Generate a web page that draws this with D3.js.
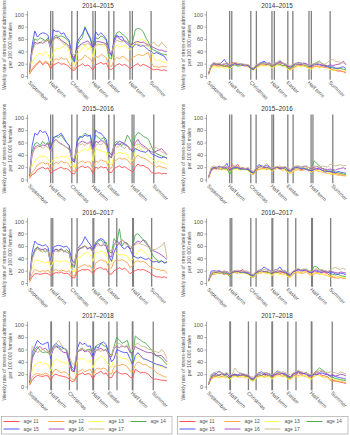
<!DOCTYPE html>
<html><head><meta charset="utf-8">
<script src="https://cdn.jsdelivr.net/npm/d3@7/dist/d3.min.js"></script>
<style>body{margin:0;background:#fff}svg{display:block;font-family:"Liberation Sans",Arial,sans-serif}</style>
</head><body><svg id="c" width="350" height="435"></svg>
<script>
const ages = ["age 11","age 12","age 13","age 14","age 15","age 16","age 17"];
const colors = ["#ff5050","#ffa64d","#ffff4d","#4dac4d","#4d55ff","#a64db8","#cbb98a"];
const years = ["2014–2015","2015–2016","2016–2017","2017–2018"];
const tickLabels = ["September","Half term","Christmas","Half term","Easter","Half term","Summer"];
const tickWeeks = [[0,8,16,24,30,38,46],[0,8,16,24,30,38.8,47],[0,8.2,16,24,30,39,46.2],[0,8.1,15.1,24,30,38.9,46.8]];
const holidayLines = [
 [8,8.8,16,18.1,24,24.9,30,31.9,38,38.9,46],
 [8,8.8,16,18,24,24.6,30,32,38.8,39.5,47],
 [8.2,8.8,16,18,24,24.3,30,33,39,39.3,46.2],
 [8.1,8.3,15.1,18,24,24.2,30,33.1,38.9,39.1,46.8]];
const yTicks = [0,20,40,60,80,100];

// Female rates, weeks 0..52, ages 11..17
const f1415 = [
[3,10,15,20,24,18,22,20,12,18,20,22,19,20,18,15,10,9,15,17,20,16,18,15,10,18,20,22,19,21,12,10,15,18,20,17,19,16,12,15,18,20,16,19,17,15,12,10,11,10,9,10,8],
[4,12,18,22,25,20,24,22,15,25,28,26,30,27,28,20,14,12,24,26,28,34,30,28,20,32,30,35,33,30,18,15,26,30,28,32,30,26,22,30,32,35,34,33,36,38,22,15,15,14,16,15,15],
[5,22,30,35,38,33,40,35,25,38,45,44,46,48,55,40,22,18,35,40,45,50,42,48,30,48,50,52,48,50,28,25,45,50,47,48,50,45,42,50,55,53,60,58,56,50,40,28,25,26,24,22,20],
[8,45,60,58,62,60,57,62,44,62,66,64,65,63,60,55,30,22,50,58,62,80,68,60,42,62,60,65,63,58,30,28,60,70,72,68,65,60,50,55,75,77,76,72,62,55,45,42,40,38,36,35,34],
[10,50,73,63,68,70,69,66,46,75,72,73,68,70,62,58,35,24,55,62,68,78,70,62,45,72,66,70,66,60,45,32,60,66,63,64,56,52,48,46,52,50,48,50,46,42,40,36,38,36,34,32,25],
[6,40,55,52,55,53,56,58,45,60,63,62,58,55,52,48,32,30,45,50,53,55,57,52,44,55,56,55,54,52,38,35,55,65,60,58,57,55,50,52,55,56,54,55,52,50,48,46,44,42,42,40,40],
[10,38,50,55,52,58,55,60,46,58,62,60,56,52,50,46,38,33,42,48,52,50,53,50,44,50,52,50,52,50,40,38,52,58,56,55,58,54,50,48,50,52,50,48,50,48,52,55,50,48,55,50,45]];
const f1516 = [
[2,8,10,16,18,20,17,19,10,14,16,18,20,17,18,15,10,9,17,20,22,19,21,18,10,20,18,21,19,20,12,11,18,20,22,19,21,18,15,12,20,25,22,23,20,18,12,10,10,11,9,10,9],
[3,12,16,24,26,28,25,27,15,24,28,26,30,27,28,24,15,13,25,28,30,27,29,28,16,30,28,32,30,29,20,18,30,32,35,33,34,32,26,24,35,40,36,35,33,30,26,24,20,22,20,19,18],
[4,22,30,35,38,37,38,33,25,32,36,35,38,36,38,33,22,20,42,45,48,50,46,55,30,50,48,46,45,44,26,24,40,42,44,42,43,40,32,30,45,55,50,45,42,38,35,30,28,30,28,26,25],
[6,45,58,60,55,62,57,60,45,65,70,68,72,65,60,55,32,28,60,68,70,75,72,70,50,72,68,65,68,60,40,36,58,62,58,55,60,72,65,55,70,76,74,70,68,65,55,45,42,40,38,36,35],
[8,55,75,72,80,76,78,70,50,68,70,72,75,68,60,55,35,30,62,70,68,72,70,72,50,80,76,75,70,65,45,40,55,58,62,60,56,55,50,45,50,48,46,45,44,48,42,40,38,36,35,37,34],
[5,40,52,55,53,56,55,58,45,62,65,60,58,55,52,50,32,28,55,60,62,60,58,62,45,62,60,63,62,58,38,35,52,58,56,60,58,55,48,50,60,65,58,55,52,48,45,44,46,48,50,45,40],
[9,42,50,52,55,50,54,52,46,58,65,60,57,55,52,48,36,34,52,56,58,55,60,57,45,55,58,56,60,55,40,42,55,52,55,53,50,56,48,52,55,58,55,52,50,48,52,50,52,48,45,42,40]];
const f1617 = [
[2,10,15,15,14,15,16,15,12,15,17,16,18,15,16,14,9,8,18,20,22,21,22,20,15,22,24,25,22,23,15,14,20,22,25,22,24,20,15,18,20,22,21,22,20,18,15,12,10,10,9,10,8],
[3,15,22,20,18,20,19,21,15,20,22,19,21,20,18,20,12,11,24,26,28,30,27,28,20,32,35,38,36,35,25,24,35,38,36,38,35,33,25,28,35,36,34,35,33,28,25,24,22,22,20,21,15],
[4,25,35,38,35,34,32,35,25,35,36,35,34,36,35,33,20,18,40,42,45,48,50,46,35,50,48,52,50,48,32,30,50,48,45,46,45,44,35,38,45,50,55,52,48,45,38,35,36,34,35,33,35],
[6,42,55,58,52,55,50,54,30,50,55,52,56,50,54,50,28,25,50,55,58,60,55,58,50,62,68,70,65,66,52,48,72,65,88,60,66,64,55,60,78,80,75,70,68,60,50,42,38,35,36,33,34],
[8,50,68,63,62,60,62,58,35,58,60,61,60,58,60,55,38,32,55,60,65,75,68,62,55,65,70,72,70,60,45,35,50,60,65,58,55,60,55,45,42,40,42,40,38,40,36,34,35,33,36,32,34],
[5,40,52,58,55,54,56,52,32,52,55,53,55,52,50,48,30,28,52,56,58,60,55,58,50,62,64,60,62,60,45,42,62,68,65,70,66,64,55,58,65,68,66,70,64,60,55,52,50,48,45,42,38],
[8,38,50,55,52,50,54,52,32,50,52,50,53,52,50,48,32,30,55,58,56,60,58,55,50,58,62,60,65,62,55,52,60,65,62,70,64,62,60,58,62,65,63,62,60,58,55,54,55,58,60,66,40]];
const f1718 = [
[2,10,15,18,17,16,18,17,10,18,20,18,17,16,15,12,8,9,18,20,22,19,21,20,12,20,22,25,20,22,15,14,22,25,22,20,21,20,15,14,28,25,22,23,22,20,15,12,12,11,10,10,9],
[3,15,20,21,20,19,22,20,15,25,28,25,22,24,22,18,12,11,22,25,28,24,26,28,18,28,30,28,30,28,22,20,32,35,34,36,35,32,25,24,35,40,38,35,36,32,30,28,22,20,18,16,15],
[4,25,35,38,40,36,38,35,25,40,45,42,40,38,40,35,25,22,42,45,45,44,40,42,30,42,45,50,46,40,35,30,48,52,48,46,45,44,38,35,45,50,48,45,44,42,40,38,35,33,32,30,30],
[6,48,60,65,58,55,56,55,50,65,66,64,60,62,58,45,32,28,55,60,62,58,60,60,50,65,68,70,66,65,55,50,65,80,75,70,72,75,60,45,82,78,75,72,70,65,60,55,50,48,45,40,35],
[8,55,65,75,70,68,70,72,45,65,70,66,64,62,60,45,28,25,60,72,68,70,65,66,50,65,62,70,72,68,55,40,45,60,58,56,55,55,45,35,50,55,50,45,44,42,40,38,36,35,34,32,30],
[5,45,55,62,65,60,62,58,50,60,65,62,58,55,55,40,25,24,55,58,60,56,58,55,45,58,60,62,58,60,50,48,62,65,63,66,64,65,55,55,65,62,60,58,56,55,55,52,50,50,50,45,40],
[10,65,60,55,58,60,57,58,50,62,70,75,68,62,60,50,38,35,58,60,62,58,60,57,55,60,58,57,60,58,52,50,65,68,70,66,64,68,60,58,68,70,66,65,64,60,60,58,56,55,60,55,45]];

// Male rates, weeks 0..52, ages 11..17
const m1415 = [
[3,14,18,17,16,18,15,16,14,22,20,18,19,17,16,15,12,10,14,16,18,17,19,18,14,17,20,18,16,17,12,10,14,15,18,16,17,15,12,14,15,16,14,15,14,13,12,10,9,8,8,7,5],
[3,15,18,16,17,15,18,17,15,20,22,20,18,19,17,16,13,11,15,17,19,18,17,20,15,16,18,20,22,18,14,12,13,15,17,18,16,15,14,13,16,18,15,17,16,14,11,10,9,10,8,7,6],
[2,12,15,14,13,15,12,14,12,15,18,17,16,18,17,15,12,9,13,15,17,16,18,16,13,15,17,18,16,15,11,9,12,14,16,15,17,14,12,11,14,15,13,14,16,13,10,9,10,11,12,10,9],
[3,16,20,18,19,17,16,18,13,17,18,16,17,19,18,16,12,10,15,18,20,22,19,18,15,18,20,19,17,18,13,12,16,18,20,19,18,17,15,16,20,22,24,20,18,16,14,13,12,13,12,11,10],
[4,18,21,20,19,22,27,20,17,19,20,18,19,17,18,17,13,11,17,20,22,24,21,20,16,20,22,24,21,20,16,14,18,20,22,21,20,19,16,18,20,19,18,17,16,15,14,15,13,12,14,15,12],
[3,17,20,19,20,18,19,21,16,18,21,19,20,18,19,17,14,12,16,19,21,20,18,22,17,19,21,22,20,19,16,15,18,20,19,18,21,20,17,15,18,20,19,18,17,16,18,17,18,19,20,24,18],
[4,18,22,20,21,19,20,22,18,20,22,21,19,20,18,19,15,13,18,20,19,21,20,19,17,20,22,26,21,20,18,17,19,21,20,22,19,18,17,19,20,21,22,20,19,22,25,27,24,23,22,21,20]];
const m1516 = [
[3,15,18,17,20,16,18,17,14,24,20,25,18,19,17,16,11,9,15,17,18,19,17,18,14,18,19,17,18,16,12,11,15,17,18,16,17,19,15,14,18,16,17,15,14,13,12,11,10,9,8,7,6],
[3,14,17,18,16,17,19,15,13,18,19,17,16,18,17,15,10,8,14,16,17,18,16,17,14,16,18,17,15,16,11,10,13,15,16,14,15,17,14,12,15,14,13,12,11,10,9,8,8,7,7,6,6],
[2,18,20,19,17,18,16,15,12,15,17,16,15,17,16,14,10,9,16,18,17,16,19,17,13,17,18,22,17,16,12,10,14,16,18,17,19,16,13,12,16,15,14,13,12,11,10,9,8,10,9,8,7],
[3,16,19,18,20,19,17,18,8,17,18,19,17,16,18,15,12,10,16,20,22,19,20,18,15,19,20,18,19,17,14,13,17,19,20,18,19,17,16,20,30,26,22,18,15,14,13,15,12,11,10,9,8],
[4,17,20,18,22,19,21,26,15,18,20,19,17,18,16,17,12,11,18,24,22,21,23,20,17,19,20,18,19,20,15,14,18,20,19,17,18,16,15,14,16,18,17,15,12,13,14,12,11,13,12,11,10],
[3,16,19,20,18,21,19,20,16,19,21,20,18,19,17,18,14,12,17,20,21,20,19,21,17,18,20,19,18,20,16,15,19,21,22,20,21,22,19,18,20,21,19,18,17,16,17,16,15,17,18,19,17],
[4,20,22,21,19,20,22,21,18,20,22,21,20,19,18,20,15,13,19,21,20,22,26,21,18,20,21,22,20,21,18,17,20,22,21,20,22,21,19,20,22,21,20,22,21,20,25,24,22,23,24,22,23]];
const m1617 = [
[3,12,15,16,17,15,14,16,12,18,17,16,19,22,17,15,11,10,15,17,16,18,17,16,14,17,18,16,17,15,11,10,15,17,18,16,20,19,15,14,18,17,16,18,17,15,12,10,9,8,9,8,7],
[3,13,14,15,16,17,15,14,11,16,17,18,16,17,16,14,10,9,14,16,18,17,15,16,13,15,17,16,14,15,10,9,14,16,17,15,16,18,14,12,15,16,14,15,13,12,10,9,8,10,9,8,7],
[2,14,16,15,17,16,18,15,12,16,18,17,16,15,17,14,11,10,15,17,16,18,16,15,12,16,15,14,13,14,10,9,16,18,17,16,19,20,15,14,17,16,15,14,13,12,11,12,10,9,10,9,8],
[3,14,17,18,16,17,15,16,10,17,18,19,17,18,16,15,12,11,16,18,20,19,18,17,15,18,17,19,18,17,13,12,18,20,22,21,20,23,18,20,27,26,22,20,19,18,15,14,13,14,12,11,10],
[4,19,20,19,20,18,19,17,14,18,20,19,18,17,18,16,13,12,18,20,22,26,23,21,18,21,22,26,20,19,15,14,18,20,22,21,20,22,18,16,20,19,18,17,20,18,16,17,15,14,16,15,13],
[3,15,18,17,19,18,17,19,15,17,19,18,20,19,17,18,14,13,17,19,20,18,19,20,16,18,20,19,18,17,14,13,18,20,21,19,22,20,17,18,20,21,19,20,18,17,19,18,17,16,18,17,16],
[4,16,18,19,17,18,20,18,16,19,20,21,19,18,20,19,15,14,19,21,20,22,21,20,18,21,22,20,21,20,17,16,20,22,24,21,23,22,20,19,22,23,21,22,20,19,21,24,25,23,22,24,21]];
const m1718 = [
[3,13,16,17,18,16,17,15,13,17,18,16,17,18,16,15,11,10,15,17,18,16,19,17,14,18,20,19,17,18,14,13,17,19,22,20,18,19,16,15,20,22,21,18,17,16,12,10,9,8,7,6,5],
[3,12,15,16,14,17,15,16,12,15,17,16,15,16,14,15,10,9,14,16,17,15,16,18,13,16,18,20,16,17,13,12,15,17,18,19,17,16,14,13,17,19,18,16,15,14,10,9,8,9,8,7,6],
[2,10,14,15,16,14,17,15,11,15,16,15,17,16,15,14,10,8,14,15,16,17,15,16,12,15,17,16,18,16,12,11,15,17,16,15,18,17,13,12,16,18,17,15,16,14,12,13,11,10,12,11,10],
[3,15,18,17,19,20,18,17,13,18,19,17,18,19,17,16,12,11,17,19,18,20,19,18,15,19,21,24,20,19,15,14,19,22,24,23,21,22,18,17,22,26,30,27,24,20,16,15,13,12,11,10,9],
[4,18,22,21,25,22,20,21,15,19,20,18,21,20,19,18,13,12,19,22,24,21,22,20,17,21,25,22,21,20,17,16,20,22,24,22,21,20,17,18,20,19,21,22,20,19,17,18,16,15,14,13,12],
[3,16,19,20,18,21,19,20,16,18,20,19,18,20,18,17,14,13,18,20,21,19,20,21,17,19,21,20,22,21,17,16,20,23,25,22,21,23,19,18,22,24,23,25,22,20,18,19,17,18,20,19,17],
[4,20,22,24,23,22,21,23,18,20,30,24,22,21,20,19,16,15,20,22,21,23,22,21,19,22,23,22,24,23,20,19,22,24,26,24,23,22,20,19,22,24,26,25,23,22,24,23,22,21,24,22,20]];

const femaleData = [f1415,f1516,f1617,f1718];
const maleData = [m1415,m1516,m1617,m1718];

const svg = d3.select("#c");
const rowStep = 103.5;
const colOffset = [0,179];
const textCol = "#555";

function panel(col,row,series,sexLabel){
  const g = svg.append("g").attr("transform",`translate(${colOffset[col]},${row*rowStep})`);
  const x = d3.scaleLinear().domain([0,52]).range([29.5,167]);
  const y = d3.scaleLinear().domain([0,100]).range([76,14.3]);
  g.append("text").attr("x",98).attr("y",7.5).attr("text-anchor","middle")
    .attr("font-size",6.3).attr("fill","#333").text(years[row]);
  const yt = g.append("text").attr("transform",`translate(6,${(y(0)+y(100))/2}) rotate(-90)`)
    .attr("text-anchor","middle").attr("font-size",5).attr("fill",textCol);
  yt.append("tspan").attr("x",0).attr("dy",0).text("Weekly rate of stress-related admissions");
  yt.append("tspan").attr("x",0).attr("dy","1.2em").text("per 100 000 "+sexLabel);
  const ax = g.append("g").attr("transform","translate(27.5,0)")
    .call(d3.axisLeft(y).tickValues(yTicks).tickSize(2).tickPadding(1.5));
  ax.select(".domain").remove();
  ax.selectAll(".tick line").attr("stroke","#555").attr("stroke-width",0.5);
  ax.selectAll(".tick text").attr("font-size",5.5).attr("fill",textCol).attr("font-family","Liberation Sans,Arial,sans-serif");
  g.append("line").attr("x1",27.5).attr("x2",27.5).attr("y1",y(-5)).attr("y2",y(105))
    .attr("stroke","#555").attr("stroke-width",0.5);
  g.selectAll(".hl").data(holidayLines[row]).enter().append("line")
    .attr("x1",d=>x(d)).attr("x2",d=>x(d)).attr("y1",y(105.5)).attr("y2",y(-6))
    .attr("stroke","#808080").attr("stroke-width",1.3);
  const line = d3.line().x((d,i)=>x(i)).y(d=>y(d));
  series.forEach((s,k)=>{
    g.append("path").attr("d",line(s)).attr("fill","none")
      .attr("stroke",colors[k]).attr("stroke-width",0.9).attr("stroke-linejoin","round");
  });
  tickWeeks[row].forEach((w,i)=>{
    g.append("text").attr("transform",`translate(${x(w)-0.5},${y(-6)+2}) rotate(45)`)
      .attr("dy","0.35em").attr("font-size",5.3).attr("fill",textCol).text(tickLabels[i]);
  });
}

for(let r=0;r<4;r++){
  panel(0,r,femaleData[r],"females");
  panel(1,r,maleData[r],"males");
}

const legCols = [2,47,87,129];
[1.5,177.5].forEach(x0=>{
  const lg = svg.append("g").attr("transform",`translate(${x0},416.5)`);
  lg.append("rect").attr("x",0).attr("y",0).attr("width",170.5).attr("height",17.5)
    .attr("fill","#fff").attr("stroke","#9a9a9a").attr("stroke-width",0.6);
  ages.forEach((a,i)=>{
    const cx = legCols[i%4], cy = i<4 ? 5 : 12.5;
    lg.append("line").attr("x1",cx).attr("x2",cx+16).attr("y1",cy).attr("y2",cy)
      .attr("stroke",colors[i]).attr("stroke-width",1);
    lg.append("text").attr("x",cx+20).attr("y",cy).attr("dy","0.35em")
      .attr("font-size",5).attr("fill",textCol).text(a);
  });
});
</script></body></html>
